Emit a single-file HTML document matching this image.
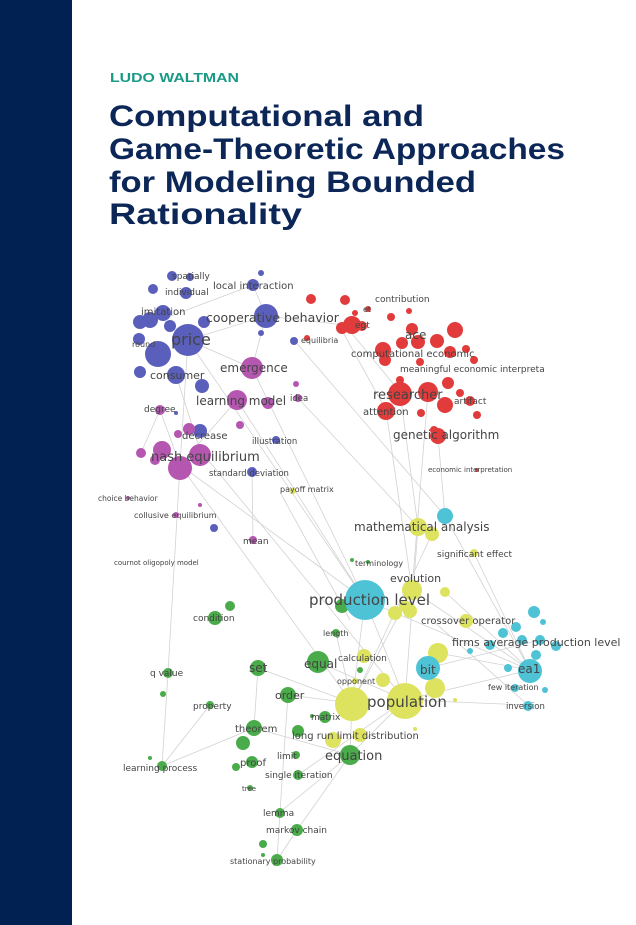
<!DOCTYPE html>
<html><head><meta charset="utf-8"><style>
html,body{margin:0;padding:0;background:#fff;}
svg{display:block}
.l{font-family:"DejaVu Sans","Liberation Sans",sans-serif;fill:#444;}
</style></head><body>
<svg width="636" height="925" viewBox="0 0 636 925" xmlns="http://www.w3.org/2000/svg">
<rect x="0" y="0" width="636" height="925" fill="#fff"/>
<rect x="0" y="0" width="72" height="925" fill="#012152"/>
<text x="110" y="82" font-family="Liberation Sans,sans-serif" font-weight="bold" font-size="13" fill="#1a9a86" textLength="129" lengthAdjust="spacingAndGlyphs">LUDO WALTMAN</text>
<g font-family="Liberation Sans,sans-serif" font-weight="bold" font-size="30" fill="#0c2757">
<text x="109" y="126" textLength="315" lengthAdjust="spacingAndGlyphs">Computational and</text>
<text x="109" y="159" textLength="456" lengthAdjust="spacingAndGlyphs">Game-Theoretic Approaches</text>
<text x="109" y="192" textLength="367" lengthAdjust="spacingAndGlyphs">for Modeling Bounded</text>
<text x="109" y="224" textLength="193" lengthAdjust="spacingAndGlyphs">Rationality</text>
</g>
<g stroke="#d2d2d2" stroke-width="0.8" fill="none">
<line x1="188" y1="340" x2="266" y2="316"/><line x1="188" y1="340" x2="252" y2="368"/><line x1="188" y1="340" x2="180" y2="465"/>
<line x1="188" y1="340" x2="365" y2="600"/><line x1="266" y1="316" x2="345" y2="325"/><line x1="266" y1="316" x2="252" y2="368"/>
<line x1="253" y1="285" x2="266" y2="316"/><line x1="253" y1="285" x2="160" y2="320"/><line x1="252" y1="368" x2="365" y2="600"/>
<line x1="237" y1="400" x2="365" y2="600"/><line x1="237" y1="400" x2="180" y2="465"/><line x1="180" y1="465" x2="352" y2="703"/>
<line x1="180" y1="465" x2="365" y2="600"/><line x1="200" y1="450" x2="405" y2="700"/><line x1="176" y1="375" x2="200" y2="450"/>
<line x1="294" y1="340" x2="445" y2="516"/><line x1="298" y1="398" x2="418" y2="527"/><line x1="160" y1="410" x2="180" y2="465"/>
<line x1="160" y1="410" x2="140" y2="455"/><line x1="180" y1="465" x2="168" y2="673"/><line x1="168" y1="673" x2="162" y2="766"/>
<line x1="252" y1="472" x2="253" y2="538"/><line x1="280" y1="492" x2="350" y2="620"/><line x1="345" y1="325" x2="400" y2="392"/>
<line x1="400" y1="392" x2="418" y2="527"/><line x1="386" y1="410" x2="412" y2="590"/><line x1="428" y1="392" x2="412" y2="590"/>
<line x1="438" y1="436" x2="445" y2="516"/><line x1="340" y1="327" x2="386" y2="410"/><line x1="418" y1="527" x2="405" y2="700"/>
<line x1="432" y1="534" x2="352" y2="703"/><line x1="445" y1="516" x2="530" y2="670"/><line x1="365" y1="600" x2="530" y2="670"/>
<line x1="365" y1="600" x2="405" y2="700"/><line x1="365" y1="600" x2="352" y2="703"/><line x1="412" y1="590" x2="530" y2="670"/>
<line x1="412" y1="590" x2="352" y2="703"/><line x1="405" y1="700" x2="528" y2="705"/><line x1="405" y1="700" x2="530" y2="670"/>
<line x1="428" y1="668" x2="540" y2="640"/><line x1="352" y1="703" x2="288" y2="695"/><line x1="352" y1="703" x2="258" y2="668"/>
<line x1="352" y1="703" x2="350" y2="755"/><line x1="405" y1="700" x2="350" y2="755"/><line x1="258" y1="668" x2="254" y2="728"/>
<line x1="254" y1="728" x2="162" y2="766"/><line x1="210" y1="705" x2="162" y2="766"/><line x1="288" y1="695" x2="280" y2="812"/>
<line x1="350" y1="755" x2="280" y2="812"/><line x1="350" y1="755" x2="297" y2="830"/><line x1="280" y1="812" x2="277" y2="860"/>
<line x1="297" y1="830" x2="277" y2="860"/><line x1="318" y1="662" x2="405" y2="700"/><line x1="336" y1="633" x2="352" y2="703"/>
<line x1="254" y1="728" x2="350" y2="755"/><line x1="298" y1="775" x2="405" y2="700"/><line x1="438" y1="653" x2="530" y2="670"/>
<line x1="445" y1="592" x2="530" y2="670"/><line x1="474" y1="553" x2="530" y2="670"/><line x1="432" y1="620" x2="528" y2="705"/>
</g>
<g>
<!-- blue -->
<g fill="#5a5fbb">
<circle cx="188" cy="340" r="16"/><circle cx="158" cy="354" r="13"/><circle cx="150" cy="320" r="8"/><circle cx="163" cy="313" r="8"/>
<circle cx="140" cy="322" r="7"/><circle cx="170" cy="326" r="6"/><circle cx="139" cy="339" r="6"/><circle cx="153" cy="289" r="5"/>
<circle cx="186" cy="293" r="6"/><circle cx="172" cy="276" r="5"/><circle cx="190" cy="277" r="4"/><circle cx="204" cy="322" r="6"/>
<circle cx="266" cy="316" r="12"/><circle cx="253" cy="285" r="6"/><circle cx="261" cy="273" r="3"/><circle cx="261" cy="333" r="3"/>
<circle cx="294" cy="341" r="4"/><circle cx="176" cy="375" r="9"/><circle cx="140" cy="372" r="6"/><circle cx="202" cy="386" r="7"/>
<circle cx="200" cy="431" r="7"/><circle cx="176" cy="413" r="2"/><circle cx="276" cy="440" r="4"/><circle cx="252" cy="472" r="5"/><circle cx="214" cy="528" r="4"/>
</g>
<!-- purple -->
<g fill="#b556b0">
<circle cx="252" cy="368" r="11"/><circle cx="237" cy="400" r="10"/><circle cx="268" cy="403" r="6"/><circle cx="298" cy="398" r="4"/><circle cx="296" cy="384" r="3"/>
<circle cx="160" cy="410" r="5"/><circle cx="189" cy="429" r="6"/><circle cx="178" cy="434" r="4"/><circle cx="240" cy="425" r="4"/>
<circle cx="162" cy="450" r="9"/><circle cx="180" cy="468" r="12"/><circle cx="200" cy="455" r="11"/><circle cx="141" cy="453" r="5"/><circle cx="155" cy="460" r="5"/>
<circle cx="176" cy="515" r="3"/><circle cx="200" cy="505" r="2"/><circle cx="128" cy="498" r="2"/><circle cx="253" cy="540" r="4"/>
</g>
<!-- red -->
<g fill="#e23b3b">
<circle cx="311" cy="299" r="5"/><circle cx="345" cy="300" r="5"/><circle cx="368" cy="309" r="3"/><circle cx="355" cy="313" r="3"/>
<circle cx="352" cy="325" r="9"/><circle cx="342" cy="328" r="6"/><circle cx="362" cy="326" r="5"/><circle cx="307" cy="338" r="3"/>
<circle cx="409" cy="311" r="3"/><circle cx="391" cy="317" r="4"/><circle cx="412" cy="329" r="6"/><circle cx="455" cy="330" r="8"/>
<circle cx="418" cy="342" r="7"/><circle cx="437" cy="341" r="7"/><circle cx="450" cy="352" r="6"/><circle cx="383" cy="350" r="8"/>
<circle cx="402" cy="343" r="6"/><circle cx="385" cy="360" r="6"/><circle cx="420" cy="362" r="4"/><circle cx="466" cy="349" r="4"/><circle cx="474" cy="360" r="4"/>
<circle cx="400" cy="394" r="12"/><circle cx="428" cy="392" r="10"/><circle cx="400" cy="380" r="4"/><circle cx="445" cy="405" r="8"/><circle cx="448" cy="383" r="6"/>
<circle cx="460" cy="393" r="4"/><circle cx="386" cy="411" r="9"/><circle cx="421" cy="413" r="4"/><circle cx="470" cy="401" r="5"/>
<circle cx="477" cy="415" r="4"/><circle cx="438" cy="436" r="8"/><circle cx="434" cy="430" r="4"/><circle cx="477" cy="470" r="2"/>
</g>
<!-- green -->
<g fill="#4aab4a">
<circle cx="342" cy="606" r="7"/><circle cx="352" cy="560" r="2"/><circle cx="368" cy="562" r="2"/><circle cx="230" cy="606" r="5"/><circle cx="215" cy="618" r="7"/>
<circle cx="336" cy="633" r="4"/><circle cx="318" cy="662" r="11"/><circle cx="360" cy="670" r="3"/><circle cx="258" cy="668" r="8"/><circle cx="168" cy="673" r="5"/>
<circle cx="163" cy="694" r="3"/><circle cx="288" cy="695" r="8"/><circle cx="210" cy="705" r="4"/><circle cx="325" cy="717" r="6"/><circle cx="312" cy="716" r="2"/>
<circle cx="254" cy="728" r="8"/><circle cx="298" cy="731" r="6"/><circle cx="243" cy="743" r="7"/><circle cx="252" cy="762" r="6"/><circle cx="236" cy="767" r="4"/>
<circle cx="350" cy="755" r="10"/><circle cx="296" cy="755" r="4"/><circle cx="162" cy="766" r="5"/><circle cx="150" cy="758" r="2"/>
<circle cx="298" cy="775" r="5"/><circle cx="250" cy="788" r="3"/><circle cx="280" cy="813" r="5"/><circle cx="297" cy="830" r="6"/>
<circle cx="263" cy="844" r="4"/><circle cx="263" cy="855" r="2"/><circle cx="277" cy="860" r="6"/>
</g>
<!-- yellow -->
<g fill="#dde35e">
<circle cx="418" cy="527" r="9"/><circle cx="432" cy="534" r="7"/><circle cx="474" cy="553" r="4"/><circle cx="412" cy="590" r="10"/><circle cx="405" cy="606" r="6"/>
<circle cx="445" cy="592" r="5"/><circle cx="395" cy="613" r="7"/><circle cx="410" cy="611" r="7"/><circle cx="466" cy="621" r="7"/>
<circle cx="364" cy="656" r="7"/><circle cx="438" cy="653" r="10"/><circle cx="383" cy="680" r="7"/><circle cx="435" cy="688" r="10"/>
<circle cx="352" cy="704" r="17"/><circle cx="405" cy="701" r="18"/><circle cx="455" cy="700" r="2"/><circle cx="415" cy="729" r="2"/>
<circle cx="333" cy="740" r="8"/><circle cx="360" cy="735" r="7"/><circle cx="293" cy="491" r="3"/><circle cx="355" cy="681" r="3"/>
</g>
<!-- cyan -->
<g fill="#4ec3d6">
<circle cx="365" cy="600" r="20"/><circle cx="445" cy="516" r="8"/><circle cx="428" cy="668" r="12"/><circle cx="530" cy="671" r="12"/>
<circle cx="534" cy="612" r="6"/><circle cx="543" cy="622" r="3"/><circle cx="516" cy="627" r="5"/><circle cx="503" cy="633" r="5"/><circle cx="522" cy="640" r="5"/>
<circle cx="540" cy="640" r="5"/><circle cx="556" cy="646" r="5"/><circle cx="536" cy="655" r="5"/><circle cx="490" cy="645" r="5"/><circle cx="470" cy="651" r="3"/>
<circle cx="545" cy="690" r="3"/><circle cx="515" cy="688" r="4"/><circle cx="528" cy="706" r="5"/><circle cx="508" cy="668" r="4"/>
</g>
</g>
<g class="l">
<text x="172" y="279" font-size="9">spatially</text>
<text x="165" y="295" font-size="9">individual</text>
<text x="213" y="289" font-size="10">local interaction</text>
<text x="141" y="315" font-size="10">imitation</text>
<text x="206" y="322" font-size="12.5">cooperative behavior</text>
<text x="132" y="347" font-size="8">round</text>
<text x="171" y="345" font-size="16">price</text>
<text x="301" y="343" font-size="8">equilibria</text>
<text x="150" y="379" font-size="11">consumer</text>
<text x="220" y="372" font-size="12">emergence</text>
<text x="196" y="405" font-size="12">learning model</text>
<text x="290" y="401" font-size="8.5">idea</text>
<text x="144" y="412" font-size="9">degree</text>
<text x="182" y="439" font-size="10">decrease</text>
<text x="252" y="444" font-size="8.5">illustration</text>
<text x="151" y="461" font-size="13">nash equilibrium</text>
<text x="209" y="476" font-size="8.5">standard deviation</text>
<text x="280" y="492" font-size="8">payoff matrix</text>
<text x="98" y="501" font-size="7.5">choice behavior</text>
<text x="134" y="518" font-size="8">collusive equilibrium</text>
<text x="243" y="544" font-size="9">mean</text>
<text x="114" y="565" font-size="7">cournot oligopoly model</text>
<text x="375" y="302" font-size="9">contribution</text>
<text x="363" y="312" font-size="8">et</text>
<text x="355" y="328" font-size="9">egt</text>
<text x="405" y="339" font-size="12">ace</text>
<text x="351" y="357" font-size="10">computational economic</text>
<text x="400" y="372" font-size="9">meaningful economic interpreta</text>
<text x="373" y="399" font-size="13">researcher</text>
<text x="454" y="404" font-size="9">artifact</text>
<text x="363" y="415" font-size="10">attention</text>
<text x="393" y="439" font-size="12">genetic algorithm</text>
<text x="428" y="472" font-size="7">economic interpretation</text>
<text x="354" y="531" font-size="12">mathematical analysis</text>
<text x="437" y="557" font-size="9">significant effect</text>
<text x="355" y="566" font-size="8">terminology</text>
<text x="390" y="582" font-size="11">evolution</text>
<text x="309" y="605" font-size="15">production level</text>
<text x="421" y="624" font-size="10">crossover operator</text>
<text x="193" y="621" font-size="9">condition</text>
<text x="323" y="636" font-size="8">length</text>
<text x="452" y="646" font-size="11">firms average production level</text>
<text x="338" y="661" font-size="9">calculation</text>
<text x="304" y="668" font-size="12">equal</text>
<text x="420" y="674" font-size="12">bit</text>
<text x="518" y="673" font-size="12">ea1</text>
<text x="150" y="676" font-size="9">q value</text>
<text x="249" y="672" font-size="12">set</text>
<text x="337" y="684" font-size="8">opponent</text>
<text x="275" y="699" font-size="11">order</text>
<text x="367" y="707" font-size="15">population</text>
<text x="488" y="690" font-size="8">few iteration</text>
<text x="506" y="709" font-size="8.5">inversion</text>
<text x="193" y="709" font-size="9">property</text>
<text x="311" y="720" font-size="9">matrix</text>
<text x="235" y="732" font-size="10">theorem</text>
<text x="292" y="739" font-size="10">long run limit distribution</text>
<text x="277" y="759" font-size="9">limit</text>
<text x="325" y="760" font-size="13">equation</text>
<text x="240" y="766" font-size="10">proof</text>
<text x="123" y="771" font-size="9">learning process</text>
<text x="265" y="778" font-size="9">single iteration</text>
<text x="242" y="791" font-size="7">tree</text>
<text x="263" y="816" font-size="9">lemma</text>
<text x="266" y="833" font-size="9">markov chain</text>
<text x="230" y="864" font-size="8">stationary probability</text>
</g>
</svg>
</body></html>
